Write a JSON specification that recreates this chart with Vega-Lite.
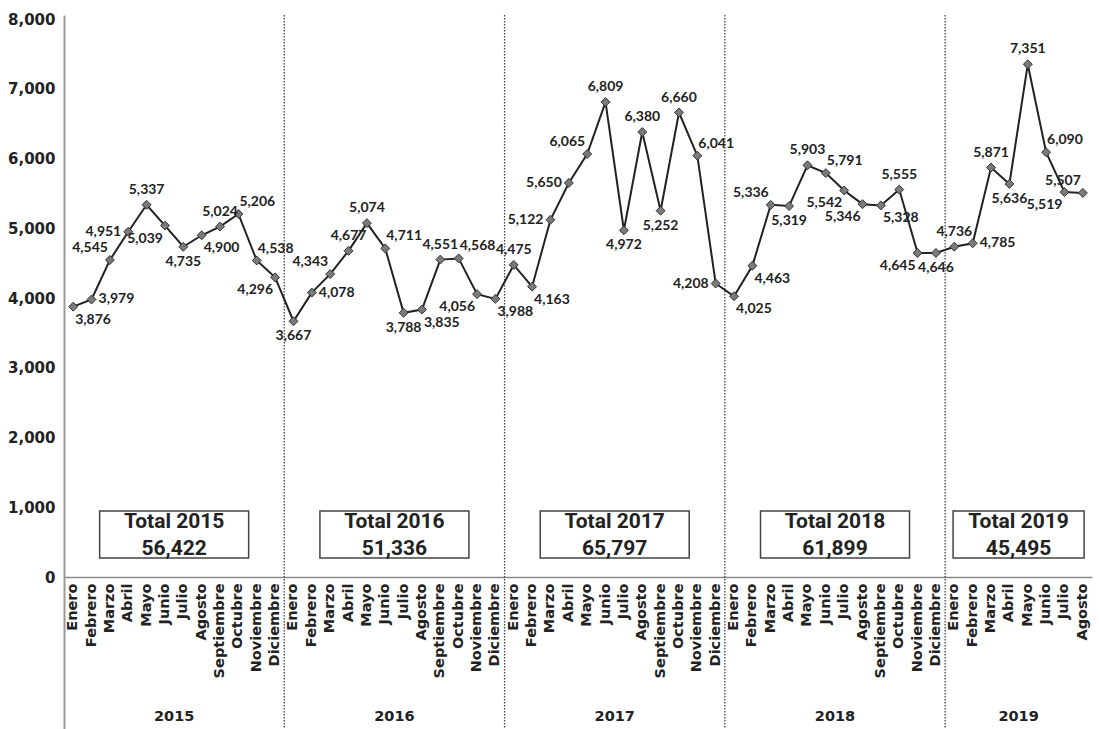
{
  "$schema": "https://vega.github.io/schema/vega-lite/v6.json",
  "width": 1028,
  "height": 714,
  "autosize": {"type": "none"},
  "padding": {"left": 64, "top": 15, "right": 7, "bottom": 0},
  "background": "white",
  "config": {"view": {"stroke": null}},
  "datasets": {
    "m": [
      {"k": "2015-01", "v": 3876, "p": "br"},
      {"k": "2015-02", "v": 3979, "p": "r"},
      {"k": "2015-03", "v": 4545, "p": "tl"},
      {"k": "2015-04", "v": 4951, "p": "l"},
      {"k": "2015-05", "v": 5337, "p": "t"},
      {"k": "2015-06", "v": 5039, "p": "bl"},
      {"k": "2015-07", "v": 4735, "p": "b"},
      {"k": "2015-08", "v": 4900, "p": "br"},
      {"k": "2015-09", "v": 5024, "p": "t"},
      {"k": "2015-10", "v": 5206, "p": "tr"},
      {"k": "2015-11", "v": 4538, "p": "tr"},
      {"k": "2015-12", "v": 4296, "p": "bl"},
      {"k": "2016-01", "v": 3667, "p": "b"},
      {"k": "2016-02", "v": 4078, "p": "r"},
      {"k": "2016-03", "v": 4343, "p": "tl"},
      {"k": "2016-04", "v": 4677, "p": "t"},
      {"k": "2016-05", "v": 5074, "p": "t"},
      {"k": "2016-06", "v": 4711, "p": "tr"},
      {"k": "2016-07", "v": 3788, "p": "b"},
      {"k": "2016-08", "v": 3835, "p": "br"},
      {"k": "2016-09", "v": 4551, "p": "t"},
      {"k": "2016-10", "v": 4568, "p": "tr"},
      {"k": "2016-11", "v": 4056, "p": "bl"},
      {"k": "2016-12", "v": 3988, "p": "br"},
      {"k": "2017-01", "v": 4475, "p": "t"},
      {"k": "2017-02", "v": 4163, "p": "br"},
      {"k": "2017-03", "v": 5122, "p": "l"},
      {"k": "2017-04", "v": 5650, "p": "l"},
      {"k": "2017-05", "v": 6065, "p": "tl"},
      {"k": "2017-06", "v": 6809, "p": "t"},
      {"k": "2017-07", "v": 4972, "p": "b"},
      {"k": "2017-08", "v": 6380, "p": "t"},
      {"k": "2017-09", "v": 5252, "p": "b"},
      {"k": "2017-10", "v": 6660, "p": "t"},
      {"k": "2017-11", "v": 6041, "p": "tr"},
      {"k": "2017-12", "v": 4208, "p": "l"},
      {"k": "2018-01", "v": 4025, "p": "br"},
      {"k": "2018-02", "v": 4463, "p": "br"},
      {"k": "2018-03", "v": 5336, "p": "tl"},
      {"k": "2018-04", "v": 5319, "p": "b"},
      {"k": "2018-05", "v": 5903, "p": "t"},
      {"k": "2018-06", "v": 5791, "p": "tr"},
      {"k": "2018-07", "v": 5542, "p": "bl"},
      {"k": "2018-08", "v": 5346, "p": "bl"},
      {"k": "2018-09", "v": 5328, "p": "br"},
      {"k": "2018-10", "v": 5555, "p": "t"},
      {"k": "2018-11", "v": 4645, "p": "bl"},
      {"k": "2018-12", "v": 4646, "p": "b"},
      {"k": "2019-01", "v": 4736, "p": "t"},
      {"k": "2019-02", "v": 4785, "p": "r"},
      {"k": "2019-03", "v": 5871, "p": "t"},
      {"k": "2019-04", "v": 5636, "p": "b"},
      {"k": "2019-05", "v": 7351, "p": "t"},
      {"k": "2019-06", "v": 6090, "p": "tr"},
      {"k": "2019-07", "v": 5519, "p": "bl"},
      {"k": "2019-08", "v": 5507, "p": "tl"}
    ],
    "yr": [
      {"year": "2015", "start": "2015-01", "mid": "2015-07", "title": "Total 2015", "total": 56422},
      {"year": "2016", "start": "2016-01", "mid": "2016-07", "title": "Total 2016", "total": 51336},
      {"year": "2017", "start": "2017-01", "mid": "2017-07", "title": "Total 2017", "total": 65797},
      {"year": "2018", "start": "2018-01", "mid": "2018-07", "title": "Total 2018", "total": 61899},
      {"year": "2019", "start": "2019-01", "mid": "2019-05", "title": "Total 2019", "total": 45495}
    ]
  },
  "layer": [
    {
      "data": {"name": "yr"},
      "transform": [{"filter": "datum.year != '2015'"}],
      "mark": {"type": "rule", "stroke": "#444", "strokeWidth": 1.3, "strokeDash": [1.5, 1.5]},
      "encoding": {
        "x": {"field": "start", "type": "ordinal", "bandPosition": 0, "scale": {"type": "band", "paddingInner": 0, "paddingOuter": 0}}
      }
    },
    {
      "data": {"name": "m"},
      "mark": {"type": "line", "color": "#222", "strokeWidth": 2},
      "encoding": {
        "x": {
          "field": "k", "type": "ordinal", "bandPosition": 0.5,
          "scale": {"type": "band", "paddingInner": 0, "paddingOuter": 0},
          "axis": {
            "title": null, "orient": "bottom", "offset": -152, "labelAngle": -90,
            "labelExpr": "['Enero','Febrero','Marzo','Abril','Mayo','Junio','Julio','Agosto','Septiembre','Octubre','Noviembre','Diciembre'][toNumber(slice(datum.value,5))-1]",
            "ticks": false, "domainColor": "#888", "domainWidth": 1.5,
            "labelFont": "DejaVu Sans", "labelFontWeight": "bold", "labelFontSize": 14.5, "labelColor": "#222", "labelPadding": 6
          }
        },
        "y": {
          "field": "v", "type": "quantitative",
          "scale": {"domain": [-2179, 8058], "nice": false, "zero": false},
          "axis": {
            "title": null, "values": [0, 1000, 2000, 3000, 4000, 5000, 6000, 7000, 8000],
            "labelExpr": "format(datum.value, ',')",
            "grid": false, "ticks": false, "domainColor": "#999", "domainWidth": 2,
            "labelFont": "DejaVu Sans", "labelFontWeight": "bold", "labelFontSize": 15, "labelColor": "#222", "labelPadding": 9
          }
        }
      }
    },
    {
      "data": {"name": "m"},
      "mark": {"type": "point", "shape": "diamond", "filled": true, "fill": "#7a7a7a", "stroke": "#333", "strokeWidth": 1, "size": 80, "opacity": 1},
      "encoding": {
        "x": {"field": "k", "type": "ordinal", "bandPosition": 0.5},
        "y": {"field": "v", "type": "quantitative"}
      }
    },
    {
      "data": {"name": "m"},
      "transform": [{"filter": "datum.p == 't'"}],
      "mark": {"type": "text", "font": "Lato", "fontWeight": "bold", "fontSize": 14, "color": "#222", "align": "center", "baseline": "bottom", "dy": -8},
      "encoding": {"x": {"field": "k", "type": "ordinal", "bandPosition": 0.5}, "y": {"field": "v", "type": "quantitative"}, "text": {"field": "v", "type": "quantitative", "format": ","}}
    },
    {
      "data": {"name": "m"},
      "transform": [{"filter": "datum.p == 'b'"}],
      "mark": {"type": "text", "font": "Lato", "fontWeight": "bold", "fontSize": 14, "color": "#222", "align": "center", "baseline": "top", "dy": 8},
      "encoding": {"x": {"field": "k", "type": "ordinal", "bandPosition": 0.5}, "y": {"field": "v", "type": "quantitative"}, "text": {"field": "v", "type": "quantitative", "format": ","}}
    },
    {
      "data": {"name": "m"},
      "transform": [{"filter": "datum.p == 'l'"}],
      "mark": {"type": "text", "font": "Lato", "fontWeight": "bold", "fontSize": 14, "color": "#222", "align": "right", "baseline": "middle", "dx": -7},
      "encoding": {"x": {"field": "k", "type": "ordinal", "bandPosition": 0.5}, "y": {"field": "v", "type": "quantitative"}, "text": {"field": "v", "type": "quantitative", "format": ","}}
    },
    {
      "data": {"name": "m"},
      "transform": [{"filter": "datum.p == 'r'"}],
      "mark": {"type": "text", "font": "Lato", "fontWeight": "bold", "fontSize": 14, "color": "#222", "align": "left", "baseline": "middle", "dx": 7},
      "encoding": {"x": {"field": "k", "type": "ordinal", "bandPosition": 0.5}, "y": {"field": "v", "type": "quantitative"}, "text": {"field": "v", "type": "quantitative", "format": ","}}
    },
    {
      "data": {"name": "m"},
      "transform": [{"filter": "datum.p == 'tl'"}],
      "mark": {"type": "text", "font": "Lato", "fontWeight": "bold", "fontSize": 14, "color": "#222", "align": "right", "baseline": "bottom", "dx": -2, "dy": -5},
      "encoding": {"x": {"field": "k", "type": "ordinal", "bandPosition": 0.5}, "y": {"field": "v", "type": "quantitative"}, "text": {"field": "v", "type": "quantitative", "format": ","}}
    },
    {
      "data": {"name": "m"},
      "transform": [{"filter": "datum.p == 'tr'"}],
      "mark": {"type": "text", "font": "Lato", "fontWeight": "bold", "fontSize": 14, "color": "#222", "align": "left", "baseline": "bottom", "dx": 1, "dy": -5},
      "encoding": {"x": {"field": "k", "type": "ordinal", "bandPosition": 0.5}, "y": {"field": "v", "type": "quantitative"}, "text": {"field": "v", "type": "quantitative", "format": ","}}
    },
    {
      "data": {"name": "m"},
      "transform": [{"filter": "datum.p == 'bl'"}],
      "mark": {"type": "text", "font": "Lato", "fontWeight": "bold", "fontSize": 14, "color": "#222", "align": "right", "baseline": "top", "dx": -2, "dy": 6},
      "encoding": {"x": {"field": "k", "type": "ordinal", "bandPosition": 0.5}, "y": {"field": "v", "type": "quantitative"}, "text": {"field": "v", "type": "quantitative", "format": ","}}
    },
    {
      "data": {"name": "m"},
      "transform": [{"filter": "datum.p == 'br'"}],
      "mark": {"type": "text", "font": "Lato", "fontWeight": "bold", "fontSize": 14, "color": "#222", "align": "left", "baseline": "top", "dx": 2, "dy": 6},
      "encoding": {"x": {"field": "k", "type": "ordinal", "bandPosition": 0.5}, "y": {"field": "v", "type": "quantitative"}, "text": {"field": "v", "type": "quantitative", "format": ","}}
    },
    {
      "data": {"name": "yr"},
      "transform": [{"filter": "datum.year != '2019'"}],
      "mark": {"type": "point", "shape": "M-1,-0.3154H1V0.3154H-1Z", "size": 22201, "filled": true, "fill": "white", "stroke": "#444", "strokeWidth": 1.5, "opacity": 1},
      "encoding": {"x": {"field": "mid", "type": "ordinal", "bandPosition": 0}, "y": {"datum": 609}}
    },
    {
      "data": {"name": "yr"},
      "transform": [{"filter": "datum.year == '2019'"}],
      "mark": {"type": "point", "shape": "M-1,-0.3588H1V0.3588H-1Z", "size": 17161, "filled": true, "fill": "white", "stroke": "#444", "strokeWidth": 1.5, "opacity": 1},
      "encoding": {"x": {"field": "mid", "type": "ordinal", "bandPosition": 0}, "y": {"datum": 609}}
    },
    {
      "data": {"name": "yr"},
      "mark": {"type": "text", "font": "Roboto", "fontWeight": "bold", "fontSize": 21, "color": "#222", "align": "center", "baseline": "middle"},
      "encoding": {"x": {"field": "mid", "type": "ordinal", "bandPosition": 0}, "y": {"datum": 789}, "text": {"field": "title", "type": "nominal"}}
    },
    {
      "data": {"name": "yr"},
      "mark": {"type": "text", "font": "Roboto", "fontWeight": "bold", "fontSize": 21, "color": "#222", "align": "center", "baseline": "middle"},
      "encoding": {"x": {"field": "mid", "type": "ordinal", "bandPosition": 0}, "y": {"datum": 401}, "text": {"field": "total", "type": "quantitative", "format": ","}}
    },
    {
      "data": {"name": "yr"},
      "mark": {"type": "text", "font": "DejaVu Sans", "fontWeight": "bold", "fontSize": 14.5, "color": "#222", "align": "center", "baseline": "middle"},
      "encoding": {"x": {"field": "mid", "type": "ordinal", "bandPosition": 0}, "y": {"datum": -2007}, "text": {"field": "year", "type": "nominal"}}
    }
  ]
}
